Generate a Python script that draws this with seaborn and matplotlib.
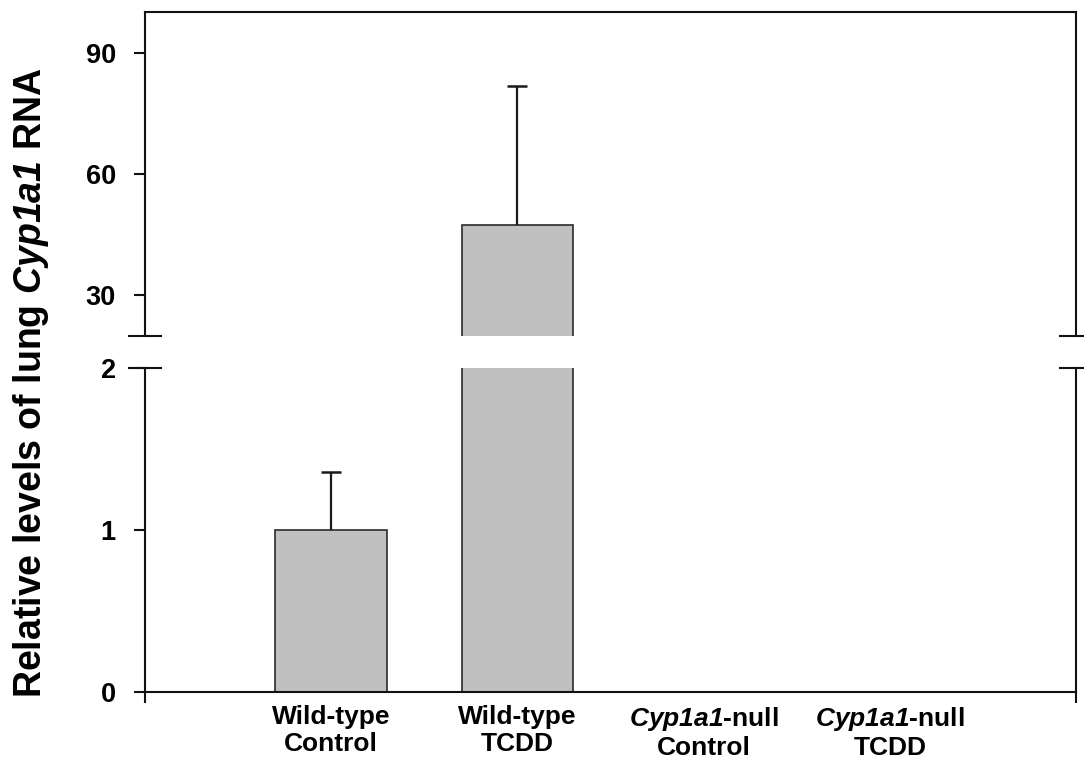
import numpy as np
import pandas as pd
import matplotlib
matplotlib.use("Agg")
import matplotlib.pyplot as plt
import seaborn as sns

# ---- data ----
categories = ["Wild-type\nControl", "Wild-type\nTCDD",
              "$Cyp1a1$-null\nControl", "$Cyp1a1$-null\nTCDD"]
values = [1.0, 47.5, 0.0, 0.0]
errors = [0.36, 34.2, 0.0, 0.0]
lower_ticks = [0, 1, 2]
upper_ticks = [30, 60, 90]
ylabel = "Relative levels of lung $Cyp1a1$ RNA"

sns.set_style("white")
plt.rcParams["font.family"] = ["Liberation Sans", "DejaVu Sans"]
plt.rcParams["font.weight"] = "bold"
plt.rcParams["text.color"] = "black"
plt.rcParams["axes.labelcolor"] = "black"
plt.rcParams["xtick.color"] = "black"
plt.rcParams["ytick.color"] = "black"
plt.rcParams["mathtext.fontset"] = "custom"
for k in ("rm", "it", "bf", "sf"):
    plt.rcParams[f"mathtext.{k}"] = "Liberation Sans:italic:bold"

df = pd.DataFrame({"group": categories, "value": values, "err": errors})

fig = plt.figure(figsize=(10.84, 7.65), dpi=100)
L, W = 0.1338, 0.8588
ax_up = fig.add_axes([L, 0.5608, W, 0.4235])
ax_lo = fig.add_axes([L, 0.0948, W, 0.4242])

spine_c = "#111111"
for ax in (ax_up, ax_lo):
    sns.barplot(data=df, x="group", y="value", ax=ax, color="#c0c0c0",
                saturation=1, width=0.6, edgecolor="#2b2b2b", linewidth=1.2,
                errorbar=None)
    m = (df["err"] > 0).to_numpy()
    xs = np.arange(len(df))[m]
    eb = ax.errorbar(xs, df["value"].to_numpy()[m],
                     yerr=[np.zeros(m.sum()), df["err"].to_numpy()[m]],
                     fmt="none", ecolor="#1a1a1a", elinewidth=1.6,
                     capsize=7, capthick=1.8, zorder=3)
    # keep only the upper cap (one-sided error bar)
    eb[1][0].set_visible(False)
    ax.set_xlim(-1, 4)
    ax.set_xlabel("")
    ax.set_ylabel("")
    for s in ax.spines.values():
        s.set_linewidth(1.5)
        s.set_color(spine_c)
    ax.tick_params(axis="y", left=True, direction="out", length=8, width=1.5,
                   pad=13, labelsize=19.5, color=spine_c, labelcolor="black")

# upper panel
ax_up.set_ylim(20, 100)
ax_up.set_yticks(upper_ticks)
ax_up.spines["bottom"].set_visible(False)
ax_up.tick_params(axis="x", bottom=False, labelbottom=False)

# lower panel
ax_lo.set_ylim(0, 2)
ax_lo.set_yticks(lower_ticks)
ax_lo.spines["top"].set_visible(False)
ax_lo.set_xticks(range(len(categories)))
ax_lo.set_xticklabels(categories, fontsize=19, linespacing=1.15,
                      color="black")
ax_lo.tick_params(axis="x", which="major", length=0, pad=9)
ax_lo.set_xticks([-1, 4], minor=True)
ax_lo.tick_params(axis="x", which="minor", bottom=True, length=8, width=1.5,
                  direction="out", color=spine_c)

# axis-break marks
for ax, yy in ((ax_up, 0), (ax_lo, 1)):
    ax.plot([0, 1], [yy, yy], transform=ax.transAxes, ls="none", marker="_",
            ms=24, mew=1.5, color=spine_c, clip_on=False, zorder=5)

fig.text(0.0101, 0.499, ylabel, rotation=90, ha="left", va="center",
         fontsize=27, fontweight="bold", color="black")

fig.savefig("out.png", dpi=100)
